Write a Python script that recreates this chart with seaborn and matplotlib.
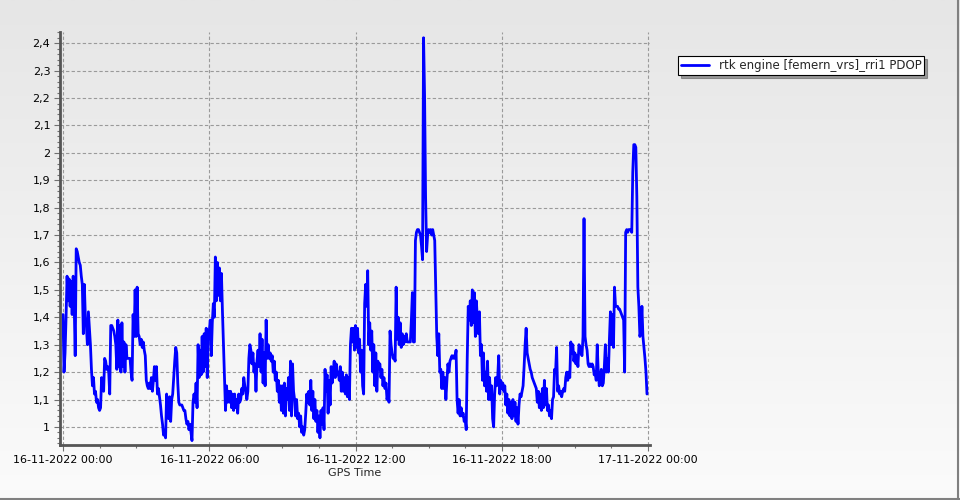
import numpy as np
import pandas as pd
import matplotlib
matplotlib.use("Agg")
import matplotlib.pyplot as plt
import matplotlib.dates as mdates
from matplotlib.ticker import MultipleLocator, FuncFormatter, FixedLocator
from matplotlib.colors import LinearSegmentedColormap
from matplotlib.lines import Line2D
import seaborn as sns

series_name = "rtk engine [femern_vrs]_rri1 PDOP"

# PDOP, one row per hour (2.5 minute steps)
pdop = [
    1.41, 1.20, 1.27, 1.40, 1.55, 1.46, 1.54, 1.44, 1.53, 1.41, 1.55, 1.45, 1.26, 1.65, 1.64, 1.62, 1.60, 1.59, 1.55, 1.52, 1.34, 1.52, 1.40, 1.37,  # 00
    1.30, 1.42, 1.36, 1.30, 1.21, 1.15, 1.18, 1.12, 1.13, 1.09, 1.10, 1.07, 1.06, 1.07, 1.18, 1.14, 1.13, 1.25, 1.24, 1.21, 1.22, 1.20, 1.12, 1.37,  # 01
    1.37, 1.36, 1.35, 1.33, 1.30, 1.21, 1.39, 1.22, 1.37, 1.20, 1.38, 1.22, 1.31, 1.20, 1.30, 1.25, 1.25, 1.25, 1.25, 1.20, 1.17, 1.41, 1.33, 1.50,  # 02
    1.33, 1.51, 1.34, 1.33, 1.30, 1.32, 1.29, 1.31, 1.28, 1.26, 1.17, 1.15, 1.14, 1.16, 1.14, 1.18, 1.13, 1.17, 1.22, 1.17, 1.22, 1.12, 1.14, 1.11,  # 03
    1.08, 1.04, 1.01, 0.97, 0.98, 0.96, 1.12, 1.06, 1.03, 1.11, 1.02, 1.10, 1.12, 1.18, 1.24, 1.29, 1.27, 1.16, 1.09, 1.08, 1.08, 1.08, 1.07, 1.06,  # 04
    1.06, 1.03, 1.01, 1.02, 0.99, 1.01, 0.98, 0.95, 1.09, 1.12, 1.09, 1.16, 1.07, 1.30, 1.18, 1.28, 1.19, 1.33, 1.20, 1.34, 1.22, 1.36, 1.18, 1.35,  # 05
    1.35, 1.39, 1.26, 1.38, 1.45, 1.40, 1.62, 1.46, 1.60, 1.48, 1.58, 1.46, 1.56, 1.42, 1.30, 1.18, 1.06, 1.15, 1.09, 1.13, 1.09, 1.13, 1.07, 1.12,  # 06
    1.06, 1.12, 1.07, 1.10, 1.05, 1.12, 1.09, 1.10, 1.14, 1.12, 1.18, 1.15, 1.13, 1.10, 1.13, 1.25, 1.30, 1.28, 1.23, 1.27, 1.20, 1.23, 1.13, 1.24,  # 07
    1.28, 1.22, 1.34, 1.20, 1.32, 1.16, 1.27, 1.15, 1.39, 1.25, 1.30, 1.25, 1.27, 1.24, 1.26, 1.20, 1.24, 1.17, 1.20, 1.13, 1.17, 1.09, 1.15, 1.06,  # 08
    1.15, 1.05, 1.16, 1.04, 1.14, 1.10, 1.18, 1.06, 1.24, 1.04, 1.23, 1.13, 1.10, 1.04, 1.10, 1.03, 1.05, 1.00, 1.04, 0.98, 1.00, 0.97, 0.99, 1.05,  # 09
    1.12, 1.09, 1.13, 1.08, 1.17, 1.06, 1.13, 1.03, 1.10, 1.02, 1.06, 0.98, 1.04, 0.96, 1.06, 1.01, 1.07, 0.99, 1.21, 1.13, 1.19, 1.05, 1.17, 1.08,  # 10
    1.22, 1.16, 1.20, 1.24, 1.18, 1.23, 1.19, 1.20, 1.17, 1.22, 1.13, 1.20, 1.13, 1.18, 1.12, 1.19, 1.11, 1.18, 1.10, 1.30, 1.36, 1.31, 1.36, 1.28,  # 11
    1.37, 1.29, 1.36, 1.27, 1.32, 1.20, 1.28, 1.15, 1.12, 1.45, 1.52, 1.44, 1.57, 1.30, 1.38, 1.28, 1.35, 1.20, 1.30, 1.15, 1.27, 1.13, 1.24, 1.22,  # 12
    1.23, 1.18, 1.21, 1.15, 1.18, 1.14, 1.16, 1.10, 1.12, 1.09, 1.35, 1.30, 1.27, 1.25, 1.26, 1.24, 1.51, 1.32, 1.40, 1.30, 1.38, 1.29, 1.34, 1.30,  # 13
    1.33, 1.31, 1.34, 1.31, 1.31, 1.31, 1.31, 1.39, 1.49, 1.31, 1.31, 1.68, 1.71, 1.72, 1.72, 1.71, 1.70, 1.66, 1.61, 2.42, 2.21, 1.84, 1.64, 1.70,  # 14
    1.72, 1.71, 1.72, 1.70, 1.72, 1.70, 1.68, 1.50, 1.33, 1.26, 1.34, 1.20, 1.21, 1.14, 1.20, 1.14, 1.18, 1.10, 1.17, 1.23, 1.20, 1.24, 1.25, 1.26,  # 15
    1.25, 1.26, 1.25, 1.28, 1.10, 1.05, 1.10, 1.04, 1.07, 1.04, 1.05, 1.02, 1.03, 0.99, 1.25, 1.44, 1.39, 1.46, 1.37, 1.50, 1.38, 1.49, 1.33, 1.46,  # 16
    1.39, 1.34, 1.42, 1.26, 1.30, 1.17, 1.27, 1.15, 1.20, 1.13, 1.24, 1.10, 1.18, 1.10, 1.15, 1.03, 1.00, 1.12, 1.18, 1.15, 1.18, 1.26, 1.12, 1.17,  # 17
    1.14, 1.16, 1.13, 1.15, 1.08, 1.12, 1.05, 1.10, 1.04, 1.09, 1.03, 1.10, 1.04, 1.09, 1.02, 1.07, 1.01, 1.08, 1.12, 1.11, 1.13, 1.15, 1.22, 1.30,  # 18
    1.36, 1.27, 1.25, 1.23, 1.21, 1.20, 1.18, 1.17, 1.16, 1.15, 1.14, 1.09, 1.13, 1.07, 1.12, 1.06, 1.14, 1.07, 1.17, 1.08, 1.14, 1.06, 1.08, 1.04,  # 19
    1.06, 1.03, 1.10, 1.11, 1.21, 1.20, 1.29, 1.13, 1.15, 1.12, 1.13, 1.11, 1.13, 1.14, 1.13, 1.18, 1.20, 1.17, 1.20, 1.18, 1.31, 1.27, 1.30, 1.24,  # 20
    1.27, 1.23, 1.26, 1.22, 1.30, 1.29, 1.27, 1.26, 1.33, 1.76, 1.33, 1.30, 1.28, 1.23, 1.22, 1.23, 1.22, 1.23, 1.22, 1.19, 1.20, 1.17, 1.30, 1.20,  # 21
    1.15, 1.18, 1.21, 1.15, 1.16, 1.22, 1.30, 1.20, 1.25, 1.20, 1.32, 1.42, 1.30, 1.41, 1.29, 1.51, 1.44, 1.44, 1.44, 1.43, 1.43, 1.42, 1.41, 1.40,  # 22
    1.39, 1.20, 1.71, 1.72, 1.71, 1.72, 1.72, 1.72, 1.71, 1.93, 2.03, 2.03, 2.02, 1.84, 1.51, 1.44, 1.33, 1.35, 1.44, 1.33, 1.29, 1.25, 1.20, 1.12,  # 23
]
times = pd.date_range("2022-11-16 00:00", periods=len(pdop), freq="150s")

df = pd.DataFrame({"GPS Time": times, "PDOP": pdop})

sns.set_theme(style="white")
plt.rcParams['font.family'] = ['DejaVu Sans']

fig = plt.figure(figsize=(9.6, 5), dpi=100)

# grey-to-white background like the original app
bg = fig.add_axes([0, 0, 1, 1], zorder=0)
grad = np.linspace(0, 1, 256).reshape(-1, 1)
bg_cmap = LinearSegmentedColormap.from_list("bg", ["#e6e6e6", "#fbfbfb"])
bg.imshow(grad, aspect="auto", cmap=bg_cmap, extent=[0, 1, 0, 1], origin="upper")
bg.axis("off")

ax = fig.add_axes([60 / 960, 55 / 500, 590 / 960, 413 / 500], zorder=1)
ax.patch.set_alpha(0)

sns.lineplot(data=df, x="GPS Time", y="PDOP", ax=ax, color="#0000ff",
             linewidth=2.0, label=series_name)

day0 = pd.Timestamp("2022-11-16 00:00")
day1 = pd.Timestamp("2022-11-17 00:00")
ax.set_xlim(day0 - pd.Timedelta(minutes=7.4), day1 + pd.Timedelta(minutes=4.9))
ax.set_ylim(0.934, 2.441)

ax.xaxis.set_major_locator(mdates.HourLocator(byhour=[0, 6, 12, 18]))
ax.xaxis.set_major_formatter(mdates.DateFormatter("%d-%m-%Y %H:%M"))
minor_x = pd.date_range(day0, day1, freq="90min")
ax.xaxis.set_minor_locator(FixedLocator(mdates.date2num(minor_x)))

ax.yaxis.set_major_locator(MultipleLocator(0.1))
ax.yaxis.set_minor_locator(MultipleLocator(0.02))
ax.yaxis.set_major_formatter(FuncFormatter(
    lambda v, p: f"{v:.1f}".rstrip("0").rstrip(".").replace(".", ",")))

ax.tick_params(which="both", bottom=True, left=True, color="#707070",
               width=0.8, labelsize=8, labelcolor="black")
ax.tick_params(which="major", length=4, pad=3)
ax.tick_params(which="minor", length=2.5)

ax.grid(True, which="major", color="#9a9a9a", linestyle=(0, (3, 2)), linewidth=0.8)
ax.set_axisbelow(True)

for s in ["top", "right"]:
    ax.spines[s].set_visible(False)
for s in ["left", "bottom"]:
    ax.spines[s].set_color("#555555")
    ax.spines[s].set_linewidth(2.0)

ax.set_xlabel("GPS Time", fontsize=8, labelpad=2)
ax.set_ylabel("")

leg = ax.legend(loc="upper left", bbox_to_anchor=(678 / 960, 1 - 56 / 500),
                bbox_transform=fig.transFigure, frameon=True, fancybox=False,
                shadow=True, edgecolor="black", framealpha=1, fontsize=8.5,
                handlelength=2.4, borderpad=0.25, borderaxespad=0)
leg.get_frame().set_linewidth(0.8)

# outer frame on the right and bottom edges
fig.add_artist(Line2D([0, 1], [0.002, 0.002], transform=fig.transFigure, color="#808080", lw=1.5))
fig.add_artist(Line2D([0.998, 0.998], [0, 1], transform=fig.transFigure, color="#808080", lw=1.5))

fig.savefig("out.png", dpi=100)
